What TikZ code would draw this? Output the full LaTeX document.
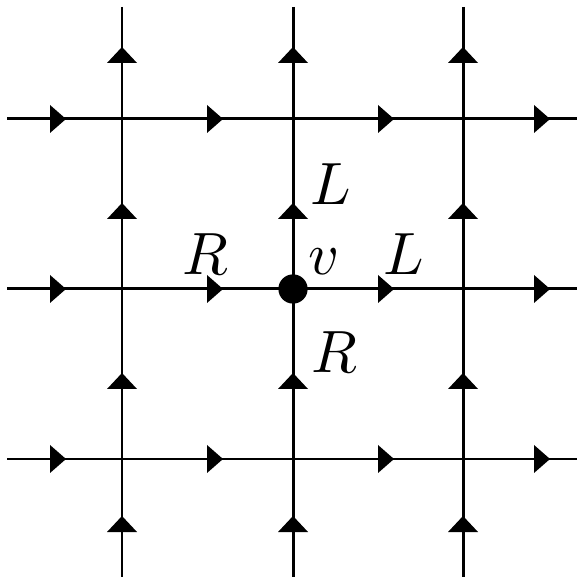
\documentclass[tikz,border=0pt]{standalone}
\begin{document}
\begin{tikzpicture}[x=0.00588235cm,y=-0.00588235cm,line width=0.5pt,
  lbl/.style={anchor=base west,inner sep=0pt,font=\normalsize},
  harrow/.style={fill=black},
  dot/.style={circle,fill=black,inner sep=0pt,minimum size=4.9pt}]
\useasboundingbox (0,0) rectangle (577,578);
% lattice lines
\foreach \x in {122,293,463} \draw (\x,7) -- (\x,577);
\foreach \y in {119,289,459} \draw (7,\y) -- (577,\y);
% arrowheads on horizontal lines (pointing right)
\foreach \y in {119,289,459}
  \foreach \b in {50,207,378,534}
    \fill[harrow] (\b,\y-14) -- (\b+16,\y) -- (\b,\y+14) -- cycle;
% arrowheads on vertical lines (pointing up)
\foreach \x in {122,293,463}
  \foreach \b in {63,219,389,532}
    \fill[harrow] (\x-15,\b) -- (\x,\b-16) -- (\x+15,\b) -- cycle;
% central vertex
\node[dot] (v) at (293,289) {};
% labels
\node[lbl] (Ltop) at (309,205) {$L$};
\node[lbl] (Rleft) at (181,275) {$R$};
\node[lbl] (vlab) at (307,275) {$v$};
\node[lbl] (Lright) at (382,275) {$L$};
\node[lbl] (Rbot) at (310,373) {$R$};
\end{tikzpicture}
\end{document}
